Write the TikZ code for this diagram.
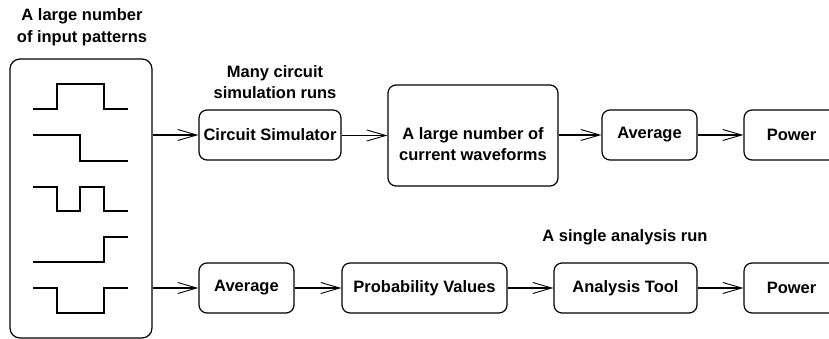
\documentclass[tikz,border=0pt]{standalone}
\usepackage{fontspec}
\setmainfont{Liberation Sans}
\usetikzlibrary{arrows.meta,positioning}
\definecolor{ink}{RGB}{0,0,0}

\begin{document}
\begin{tikzpicture}[x=1pt,y=-1pt,
    every node/.style={font=\fontsize{16.5}{21.5}\selectfont\bfseries,text=ink},
    blk/.style={draw=ink,line width=1.2pt,rounded corners=8pt,minimum height=50pt,inner sep=0pt},
    flow/.style={draw=ink,line width=1.1pt,-{Straight Barb[length=19pt,width=11pt,line width=0.9pt]}},
    wave/.style={draw=ink,line width=1.2pt}]
    \useasboundingbox (0,0) rectangle (829,339);
    \clip (0,0) rectangle (829,339);
    % input patterns
    \node[align=center] (ptitle) at (82,27) {A large number\\of input patterns};
    \node[blk,rounded corners=10pt,minimum width=142pt,minimum height=279pt] (patterns) at (81,198.5) {};
    \draw[wave] (33,109) -| (57,84) -| (104,109) -- (128,109);
    \draw[wave] (33,135) -| (80,161) -- (128,161);
    \draw[wave] (33,187) -| (57,211) -| (80,187) -| (104,211) -- (128,211);
    \draw[wave] (33,262) -| (104,237) -- (128,237);
    \draw[wave] (33,288) -| (57,313) -| (104,288) -- (128,288);
    % blocks of both rows
    \foreach \n/\x/\y/\w/\t in {
      csim/270/135/142/Circuit Simulator,
      avgtop/649.5/135/95/Average,
      powtop/791.5/135/95/Power,
      avgbot/246.5/288/95/Average,
      prob/424.5/288/165/Probability Values,
      tool/625.5/288/143/Analysis Tool,
      powbot/791.5/288/95/Power}
    {
      \node[blk,minimum width=\w pt] (\n) at (\x,\y) {\t};
    }
    \node[blk,minimum width=170pt,minimum height=101pt] (curwave) at (473,135.5) {};
    \node[align=center] (curtxt) at (473,144) {A large number of\\current waveforms};
    \node[align=center] (manyruns) at (275,82) {Many circuit\\simulation runs};
    \node (singlerun) at (625,237) {A single analysis run};
    % connectors
    \foreach \a/\b in {patterns/csim,csim/curwave,curwave/avgtop,avgtop/powtop,
      patterns/avgbot,avgbot/prob,prob/tool,tool/powbot}
      \draw[flow] (\a.east |- \b.west) -- (\b.west);
  \end{tikzpicture}
\end{document}
